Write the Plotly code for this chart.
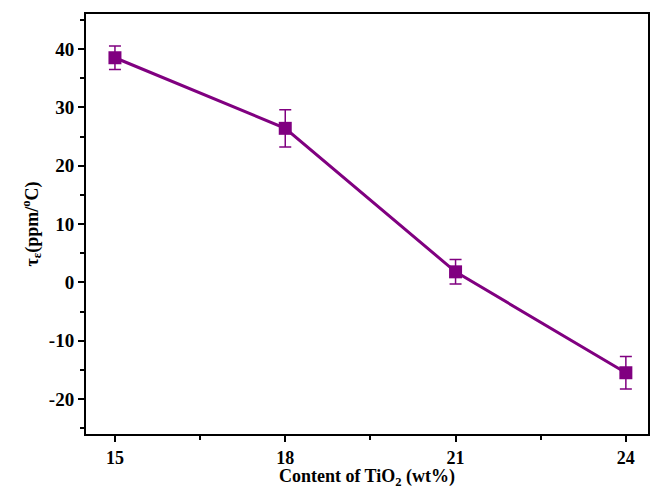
import plotly.graph_objects as go

content = [15, 18, 21, 24]
tau = [38.5, 26.4, 1.8, -15.5]
err = [2.0, 3.2, 2.1, 2.8]

color = "#800080"
font = dict(family="Liberation Serif", size=16, color="black")

fig = go.Figure()
fig.add_trace(go.Scatter(
    x=content, y=tau, mode="lines+markers",
    line=dict(color=color, width=3),
    marker=dict(symbol="square", size=13, color=color),
    error_y=dict(type="data", array=err, visible=True, color=color, thickness=1.5, width=6),
    showlegend=False,
))

fig.update_layout(
    width=652, height=489,
    margin=dict(l=86, r=2, t=14, b=55),
    paper_bgcolor="white", plot_bgcolor="white",
    font=font,
)
fig.update_xaxes(
    range=[14.49, 24.39], tickmode="array", tickvals=content,
    ticktext=["<b>%d</b>" % v for v in content],
    ticks="outside", ticklen=6, tickwidth=2, tickcolor="black",
    minor=dict(tickvals=[16.5, 19.5, 22.5], ticks="outside", ticklen=4, tickwidth=2, tickcolor="black"),
    showline=True, linewidth=2, linecolor="black", mirror=True,
    showgrid=False, zeroline=False,
    tickfont=dict(family="Liberation Serif", size=18, color="black"),
    title=dict(text="<b>Content of TiO<sub>2</sub> (wt%)</b>", standoff=0,
               font=dict(family="Liberation Serif", size=18, color="black")),
)
yt = [-20, -10, 0, 10, 20, 30, 40]
fig.update_yaxes(
    range=[-26, 46], tickmode="array", tickvals=yt,
    ticktext=["<b>%d</b>" % v for v in yt],
    ticks="outside", ticklen=6, tickwidth=2, tickcolor="black",
    minor=dict(tickvals=[-25, -15, -5, 5, 15, 25, 35, 45], ticks="outside", ticklen=4, tickwidth=2, tickcolor="black"),
    showline=True, linewidth=2, linecolor="black", mirror=True,
    showgrid=False, zeroline=False,
    tickfont=dict(family="Liberation Serif", size=19, color="black"),
    title=dict(text="<b>τ<sub>ε</sub>(ppm/<sup>o</sup>C)</b>", standoff=6,
               font=dict(family="Liberation Serif", size=18, color="black")),
)

fig.write_html("out.html")
